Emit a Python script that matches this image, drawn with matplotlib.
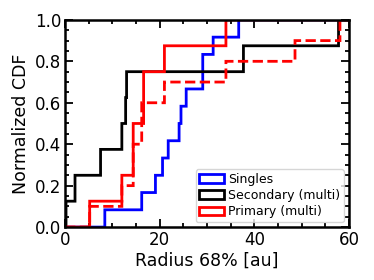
import numpy as np
import matplotlib
matplotlib.use("Agg")
import matplotlib.pyplot as plt
from matplotlib.ticker import MultipleLocator

# Radius 68% values [au]
singles = [8.4, 16.2, 19.2, 20.6, 21.8, 24.2, 24.5, 25.6, 29.2, 29.2, 31.4, 36.8]
secondary = [0.3, 2.1, 7.5, 12.0, 12.8, 13.0, 37.7, 57.9]
primary = [5.3, 12.0, 14.4, 14.4, 16.6, 16.6, 21.0, 34.0]
primary_all = [5.3, 12.0, 14.4, 14.4, 16.2, 16.2, 21.0, 34.0, 48.6, 58.1]

labels = ["Singles", "Secondary (multi)", "Primary (multi)"]
colors = ["blue", "black", "red"]

fig = plt.figure(figsize=(3.74, 2.80), dpi=100)
ax = fig.add_axes([0.174, 0.189, 0.759, 0.740])

bins = np.arange(0, 80.05, 0.1)
lw = 2.0
for data, lab, col in zip([singles, secondary, primary], labels, colors):
    ax.hist(data, bins=bins, cumulative=True, histtype="step",
            weights=np.ones(len(data)) / len(data), color=col, lw=lw, label=lab)
ax.hist(primary_all, bins=bins, cumulative=True, histtype="step",
        weights=np.ones(len(primary_all)) / len(primary_all), color="red",
        lw=lw, ls="--")

ax.set_xlim(0, 60)
ax.set_ylim(0, 1.0)
ax.xaxis.set_major_locator(MultipleLocator(20))
ax.xaxis.set_minor_locator(MultipleLocator(5))
ax.yaxis.set_major_locator(MultipleLocator(0.2))
ax.yaxis.set_minor_locator(MultipleLocator(0.05))
ax.tick_params(which="both", direction="in", top=True, right=True, width=1.3)
ax.tick_params(which="major", length=6, labelsize=12, pad=2.5)
ax.tick_params(which="minor", length=3)
for s in ax.spines.values():
    s.set_linewidth(1.8)

ax.set_xlabel("Radius 68% [au]", fontsize=12.5, labelpad=2)
ax.set_ylabel("Normalized CDF", fontsize=12.5)
ax.legend(loc="lower right", fontsize=9, handlelength=2.0, handletextpad=0.3,
          borderpad=0.3, labelspacing=0.25, borderaxespad=0.4)

fig.savefig("out.png", dpi=100)
